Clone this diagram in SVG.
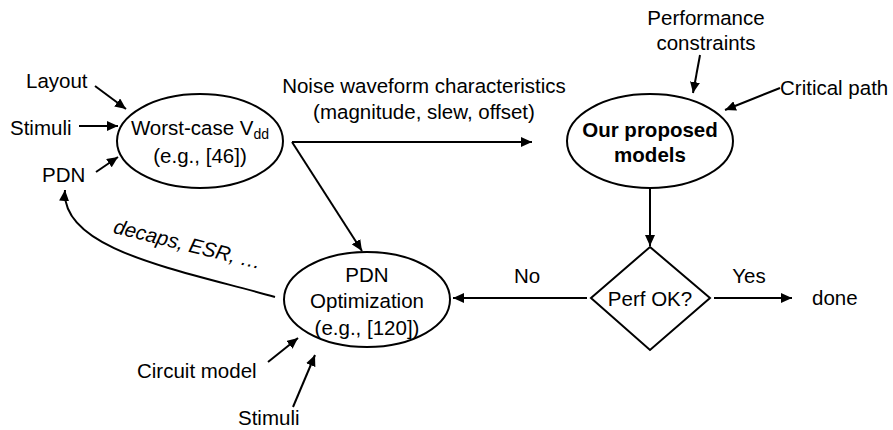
<svg xmlns="http://www.w3.org/2000/svg" width="893" height="430" viewBox="0 0 893 430">
<style>
text{font-family:"Liberation Sans",Arial,sans-serif;font-size:20.5px;fill:#000}
.m{text-anchor:middle}
.b{font-weight:bold}
.node{fill:#fff;stroke:#000;stroke-width:2}
.c{fill:none;stroke:#000;stroke-width:2;marker-end:url(#ah)}
</style>
<defs>
<marker id="ah" markerUnits="userSpaceOnUse" markerWidth="12" markerHeight="10" refX="11" refY="5" orient="auto">
<path d="M0,0 L11,5 L0,10 z" fill="#000"/>
</marker>
</defs>
<g id="connectors">
<line class="c" x1="95" y1="86" x2="126" y2="109"/>
<line class="c" x1="79" y1="126" x2="118" y2="126"/>
<line class="c" x1="96" y1="172" x2="118" y2="157"/>
<line class="c" x1="292" y1="142" x2="532" y2="142"/>
<line class="c" x1="292" y1="142" x2="362" y2="251"/>
<line class="c" x1="700" y1="55" x2="693" y2="93"/>
<line class="c" x1="780" y1="88" x2="725" y2="110"/>
<line class="c" x1="650" y1="188" x2="650" y2="246"/>
<line class="c" x1="714" y1="298" x2="792" y2="298"/>
<line class="c" x1="587" y1="298" x2="453" y2="298"/>
<path class="c" d="M275,297 C180,270 60,250 65,190"/>
<line class="c" x1="268" y1="362" x2="298" y2="338"/>
<line class="c" x1="293" y1="407" x2="315" y2="355"/>
<text class="m" x="424" y="93">Noise waveform characteristics</text>
<text class="m" x="424" y="119">(magnitude, slew, offset)</text>
<text class="m" x="749" y="283">Yes</text>
<text class="m" x="527" y="283">No</text>
<text class="m" x="186" y="251" transform="rotate(14 186 251)" font-style="italic">decaps, ESR, …</text>
</g>
<g id="layout"><text x="26" y="88">Layout</text></g>
<g id="stimuli1"><text x="10" y="135">Stimuli</text></g>
<g id="pdn"><text x="42" y="182">PDN</text></g>
<g id="worstcase">
<ellipse class="node" cx="200" cy="141" rx="83" ry="47"/>
<text class="m" x="200" y="135">Worst-case V<tspan font-size="14" dy="4">dd</tspan></text>
<text class="m" x="200" y="163">(e.g., [46])</text>
</g>
<g id="perfconstraints">
<text class="m" x="706" y="25">Performance</text>
<text class="m" x="706" y="50">constraints</text>
</g>
<g id="criticalpath"><text x="780" y="95">Critical path</text></g>
<g id="models">
<ellipse class="node" cx="650" cy="141" rx="83" ry="47"/>
<text class="m b" x="650" y="137">Our proposed</text>
<text class="m b" x="650" y="162">models</text>
</g>
<g id="perfok">
<polygon class="node" points="650,247 710,298 650,350 591,298"/>
<text class="m" x="650" y="306">Perf OK?</text>
</g>
<g id="done"><text x="812" y="305">done</text></g>
<g id="pdnopt">
<ellipse class="node" cx="367" cy="299.5" rx="83" ry="47.5"/>
<text class="m" x="367" y="282">PDN</text>
<text class="m" x="367" y="308">Optimization</text>
<text class="m" x="367" y="335">(e.g., [120])</text>
</g>
<g id="circuitmodel"><text x="137" y="378">Circuit model</text></g>
<g id="stimuli2"><text x="238" y="425">Stimuli</text></g>
</svg>
